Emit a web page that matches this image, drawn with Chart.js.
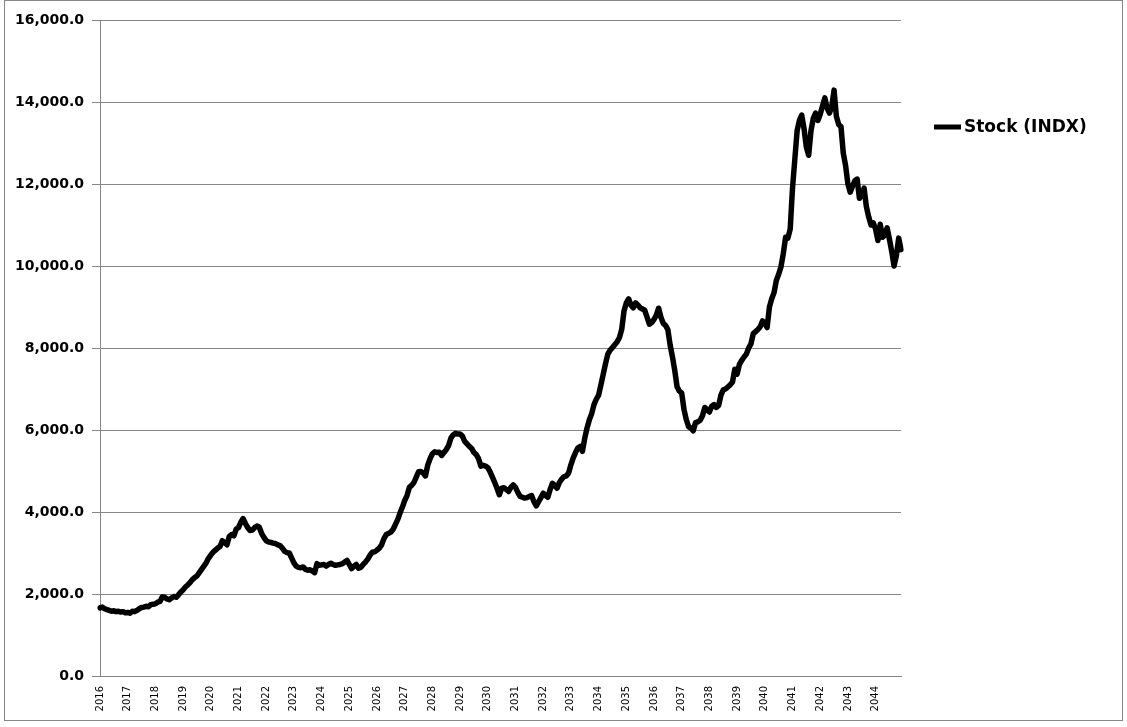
<!DOCTYPE html>
<html>
<head>
<meta charset="utf-8">
<script src="https://cdn.jsdelivr.net/npm/chart.js@4"></script>
<style>
  html,body{margin:0;padding:0;background:#fff;}
  canvas{display:block;}
</style>
</head>
<body>
<canvas id="c" width="1127" height="727"></canvas>
<script>
const SERIES_NAME = "Stock (INDX)";
const years = [];
for (let y = 2016; y <= 2044; y++) years.push(y);

// monthly index level, one row per year (Jan..Dec)
const stock = [
  1660,1680,1640,1620,1600,1580,1590,1570,1580,1560,1570,1540, // 2016
  1550,1530,1580,1570,1600,1640,1670,1680,1700,1690,1740,1750, // 2017
  1760,1800,1820,1930,1920,1880,1860,1900,1940,1920,1980,2050, // 2018
  2100,2170,2220,2280,2350,2400,2440,2520,2600,2680,2760,2870, // 2019
  2950,3020,3070,3120,3160,3300,3250,3200,3400,3450,3420,3580, // 2020
  3620,3750,3840,3720,3620,3550,3560,3620,3660,3630,3480,3380, // 2021
  3300,3270,3260,3240,3230,3200,3180,3120,3040,3010,3000,2880, // 2022
  2760,2680,2650,2640,2660,2600,2580,2590,2560,2520,2740,2700, // 2023
  2710,2720,2680,2720,2750,2720,2700,2710,2720,2740,2780,2820, // 2024
  2720,2620,2680,2720,2630,2650,2720,2780,2850,2950,3020,3030, // 2025
  3070,3120,3200,3350,3450,3480,3510,3580,3700,3820,3980,4120, // 2026
  4280,4400,4600,4650,4720,4850,4980,4990,4950,4880,5150,5300, // 2027
  5420,5470,5450,5460,5380,5450,5520,5620,5800,5880,5920,5900, // 2028
  5900,5850,5720,5660,5600,5550,5450,5400,5300,5120,5140,5120, // 2029
  5080,4980,4850,4720,4580,4420,4580,4590,4550,4500,4600,4660, // 2030
  4600,4480,4380,4360,4340,4350,4380,4400,4250,4150,4250,4350, // 2031
  4460,4400,4360,4550,4700,4650,4580,4720,4800,4860,4880,4950, // 2032
  5150,5320,5450,5560,5600,5480,5800,6050,6250,6400,6620,6750, // 2033
  6850,7100,7360,7620,7850,7950,8010,8080,8150,8250,8450,8900, // 2034
  9100,9200,9050,8980,9100,9050,8980,8950,8920,8750,8580,8620, // 2035
  8700,8800,8970,8750,8600,8550,8450,8070,7780,7450,7050,6950, // 2036
  6900,6500,6250,6080,6050,5980,6180,6200,6240,6350,6550,6500, // 2037
  6440,6580,6620,6550,6600,6850,6980,7000,7050,7100,7170,7480, // 2038
  7360,7600,7700,7780,7850,8000,8100,8350,8400,8450,8520,8660, // 2039
  8600,8500,9000,9200,9350,9650,9800,9980,10300,10700,10680,10900, // 2040
  11900,12600,13300,13550,13680,13350,12900,12700,13300,13600,13730,13550, // 2041
  13700,13900,14100,13850,13730,13880,14290,13650,13450,13400,12750,12450, // 2042
  12000,11800,11950,12080,12120,11650,11750,11900,11450,11200,11000,11050, // 2043
  10900,10620,11020,10700,10750,10930,10650,10350,10000,10250,10680,10400  // 2044
];

const months = [];
years.forEach(y => { for (let m = 1; m <= 12; m++) months.push(y + "-" + String(m).padStart(2, "0")); });

const yMin = 0, yMax = 16000, yStep = 2000;
const GRID = "#868686";

const frame = {
  id: "frame",
  beforeDraw(chart){
    const c = chart.ctx;
    c.save();
    c.strokeStyle = GRID; c.lineWidth = 1;
    c.strokeRect(4.5, 0.5, 1118, 720);
    c.restore();
  },
  afterDraw(chart){
    const c = chart.ctx;
    const x0 = 934, y0 = 127;
    c.save();
    c.strokeStyle = "#000"; c.lineWidth = 5; c.lineCap = "butt";
    c.beginPath(); c.moveTo(x0, y0); c.lineTo(x0 + 27, y0); c.stroke();
    c.fillStyle = "#000";
    c.font = "bold 17px 'DejaVu Sans'";
    c.textBaseline = "middle"; c.textAlign = "left";
    c.fillText(SERIES_NAME, x0 + 30, y0 + 1);
    c.restore();
  }
};

new Chart(document.getElementById("c"), {
  type: "line",
  data: {
    labels: months,
    datasets: [{
      label: SERIES_NAME,
      data: stock,
      borderColor: "#000",
      backgroundColor: "#000",
      borderWidth: 5.5,
      pointRadius: 0,
      tension: 0,
      borderJoinStyle: "round",
      borderCapStyle: "round",
      fill: false
    }]
  },
  options: {
    responsive: false,
    animation: false,
    devicePixelRatio: 1,
    layout: { padding: { left: 0, top: 20, right: 226, bottom: 0 } },
    plugins: { legend: { display: false }, tooltip: { enabled: false } },
    scales: {
      x: {
        type: "category",
        offset: false,
        grid: { display: false, drawTicks: false },
        border: { display: true, color: GRID, width: 1 },
        ticks: {
          autoSkip: false, minRotation: 90, maxRotation: 90, padding: 10,
          color: "#000", font: { family: "'DejaVu Sans'", size: 10 },
          callback: (v, i) => months[i].endsWith("-01") ? months[i].slice(0, 4) : ""
        },
        afterFit: s => { s.height = 51; }
      },
      y: {
        min: yMin, max: yMax,
        grid: { color: GRID, lineWidth: 1, tickLength: 8, drawTicks: true },
        border: { display: true, color: GRID, width: 1 },
        ticks: {
          stepSize: yStep, padding: 8, color: "#000",
          font: { family: "'DejaVu Sans'", size: 14, weight: "bold" },
          callback: v => v.toLocaleString("en-US", { minimumFractionDigits: 1, maximumFractionDigits: 1 })
        },
        afterFit: s => { s.width = 100; }
      }
    }
  },
  plugins: [frame]
});
</script>
</body>
</html>
